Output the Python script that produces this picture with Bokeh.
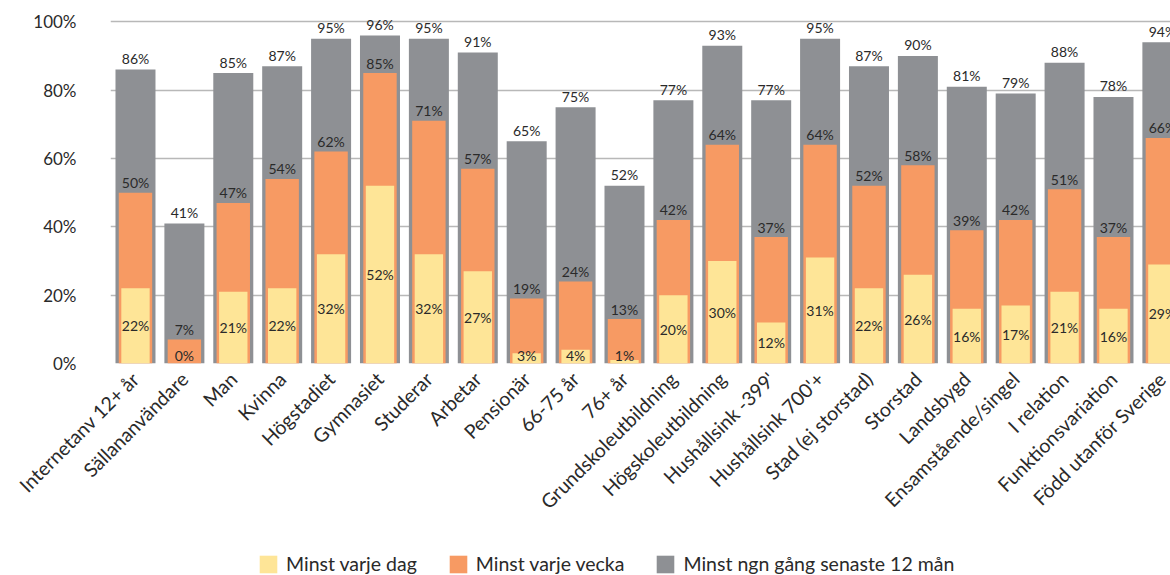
from bokeh.plotting import figure
from bokeh.models import ColumnDataSource, FixedTicker, PrintfTickFormatter, Legend, LegendItem, Range1d
from bokeh.layouts import column
from bokeh.core.properties import value
from bokeh.embed import file_html
from bokeh.resources import INLINE
import math

categories = ["Internetanv 12+ år", "Sällananvändare", "Man", "Kvinna", "Högstadiet",
              "Gymnasiet", "Studerar", "Arbetar", "Pensionär", "66-75 år", "76+ år",
              "Grundskoleutbildning", "Högskoleutbildning", "Hushållsink -399'",
              "Hushållsink 700'+", "Stad (ej storstad)", "Storstad", "Landsbygd",
              "Ensamstående/singel", "I relation", "Funktionsvariation", "Född utanför Sverige"]
minst_12man = [86, 41, 85, 87, 95, 96, 95, 91, 65, 75, 52, 77, 93, 77, 95, 87, 90, 81, 79, 88, 78, 94]
minst_vecka = [50, 7, 47, 54, 62, 85, 71, 57, 19, 24, 13, 42, 64, 37, 64, 52, 58, 39, 42, 51, 37, 66]
minst_dag = [22, 0, 21, 22, 32, 52, 32, 27, 3, 4, 1, 20, 30, 12, 31, 22, 26, 16, 17, 21, 16, 29]
series_names = ["Minst varje dag", "Minst varje vecka", "Minst ngn gång senaste 12 mån"]
y_ticks = [0, 20, 40, 60, 80, 100]

GRAY = "#8e9094"
ORANGE = "#f79a63"
YELLOW = "#fee597"
TXT = "#2a2a2a"

x = list(range(len(categories)))
src = ColumnDataSource(dict(
    x=x,
    g=minst_12man, o=minst_vecka, d=minst_dag,
    gl=[f"{v}%" for v in minst_12man],
    ol=[f"{v}%" for v in minst_vecka],
    dl=[f"{v}%" for v in minst_dag],
    dy=[max(v / 2, 2.2) for v in minst_dag],
))

p = figure(width=1170, height=545, output_backend="svg", toolbar_location=None,
           x_range=Range1d(-0.511, 21.166), y_range=Range1d(0, 103),
           min_border_left=110, min_border_right=0, min_border_top=11, min_border_bottom=182)
p.outline_line_color = None
p.background_fill_color = "white"

rg = p.vbar(x="x", top="g", width=0.818, source=src, fill_color=GRAY, line_color=None)
ro = p.vbar(x="x", top="o", width=0.683, source=src, fill_color=ORANGE, line_color=None)
ry = p.vbar(x="x", top="d", width=0.58, source=src, fill_color=YELLOW, line_color=None)

common = dict(source=src, text_font=value("Lato"), text_font_size="14px", text_color=TXT,
              text_align="center", text_baseline="middle")
p.text(x="x", y="g", text="gl", y_offset=-11, **common)
p.text(x="x", y="o", text="ol", y_offset=-10, **common)
p.text(x="x", y="dy", text="dl", **common)

p.xgrid.grid_line_color = None
p.ygrid.ticker = FixedTicker(ticks=y_ticks)
p.ygrid.grid_line_color = "#b8b8b8"
p.ygrid.grid_line_width = 1.5

p.yaxis.ticker = FixedTicker(ticks=y_ticks)
p.yaxis.formatter = PrintfTickFormatter(format="%d%%")
p.yaxis.axis_line_color = None
p.yaxis.major_tick_line_color = None
p.yaxis.minor_tick_line_color = None
p.yaxis.major_label_standoff = 28
p.yaxis.major_label_text_font = "Lato"
p.yaxis.major_label_text_font_size = "17px"
p.yaxis.major_label_text_color = TXT

p.xaxis.ticker = FixedTicker(ticks=x)
p.xaxis.major_label_overrides = {i: c for i, c in enumerate(categories)}
p.xaxis.major_label_orientation = math.pi / 4
p.xaxis.axis_line_color = None
p.xaxis.major_tick_line_color = None
p.xaxis.minor_tick_line_color = None
p.xaxis.major_label_standoff = 6
p.xaxis.major_label_text_font = "Lato"
p.xaxis.major_label_text_font_size = "19.5px"
p.xaxis.major_label_text_color = TXT

# legend strip below the chart (hidden renderers only provide the swatches)
lg = figure(width=1170, height=30, output_backend="svg", toolbar_location=None,
            x_axis_location=None, y_axis_location=None,
            x_range=Range1d(0, 1), y_range=Range1d(0, 1),
            min_border_left=0, min_border_right=0, min_border_top=0, min_border_bottom=0)
lg.outline_line_color = None
lg.grid.visible = False
ly = lg.vbar(x="x", top="d", width=0.1, source=src, fill_color=YELLOW, line_color=None, visible=False)
lo = lg.vbar(x="x", top="o", width=0.1, source=src, fill_color=ORANGE, line_color=None, visible=False)
lgr = lg.vbar(x="x", top="g", width=0.1, source=src, fill_color=GRAY, line_color=None, visible=False)
legend = Legend(items=[LegendItem(label=series_names[0], renderers=[ly]),
                       LegendItem(label=series_names[1], renderers=[lo]),
                       LegendItem(label=series_names[2], renderers=[lgr])],
                location=(147, 0), orientation="horizontal",
                padding=0, margin=0, spacing=30, label_standoff=7,
                glyph_width=22, glyph_height=22,
                inactive_fill_alpha=0,
                border_line_color=None, background_fill_alpha=0,
                label_text_font="Lato", label_text_font_size="19.5px", label_text_color=TXT)
lg.add_layout(legend, "center")

layout = column(p, lg, spacing=0)
open("out.html", "w").write(file_html(layout, INLINE))
